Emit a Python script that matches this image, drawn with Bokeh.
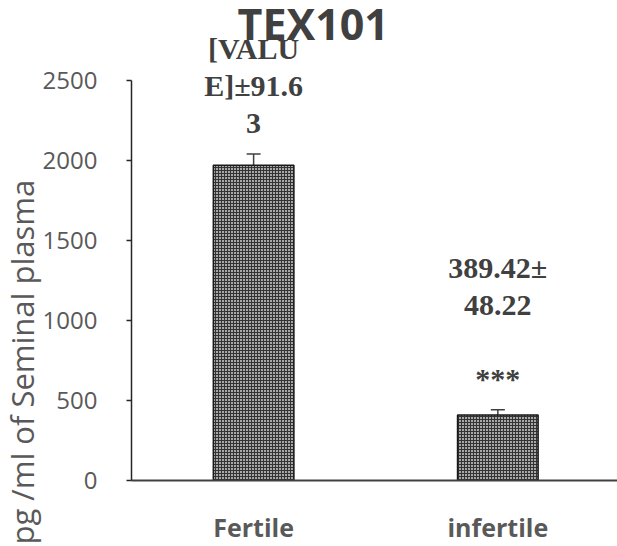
import math
from bokeh.plotting import figure
from bokeh.models import (ColumnDataSource, Range1d, FixedTicker, Whisker, TeeHead, Label, Title)
from bokeh.core.properties import value
from bokeh.embed import file_html
from bokeh.resources import INLINE

# ---- data ----
categories = ["Fertile", "infertile"]
means = [1970, 410]
errors = [70, 32]
value_labels = ["[VALU\nE]\u00b191.6\n3", "389.42\u00b1\n48.22"]
significance = ["", "***"]
y_ticks = [0, 500, 1000, 1500, 2000, 2500]
title_text = "TEX101"
y_label_text = "pg /ml of Seminal plasma"

xs = [i + 0.5 for i in range(len(categories))]
full_labels = [lab + ("\n\n" + s if s else "") for lab, s in zip(value_labels, significance)]
src = ColumnDataSource(dict(
    x=xs, top=means,
    upper=[m + e for m, e in zip(means, errors)],
    lower=[m - e for m, e in zip(means, errors)],
    lab=full_labels,
))

p = figure(width=617, height=546, output_backend="svg", toolbar_location=None,
           x_range=Range1d(0.0, 1.99), y_range=Range1d(0, 3000),
           min_border_left=131, min_border_right=0, min_border_top=0,
           min_border_bottom=66)
p.outline_line_color = None
p.xgrid.visible = False
p.ygrid.visible = False
p.background_fill_color = "white"

p.vbar(x="x", top="top", width=0.33, bottom=0, source=src,
       fill_color="#a8a8a8", line_color="#1a1a1a", line_width=1.5,
       hatch_pattern="+", hatch_color="#333333", hatch_scale=3, hatch_weight=1)

wh = Whisker(base="x", upper="upper", lower="lower", source=src,
             line_color="#404040", line_width=1.5,
             upper_head=TeeHead(size=14, line_color="#404040", line_width=1.5),
             lower_head=TeeHead(size=14, line_color="#404040", line_width=1.5))
p.add_layout(wh)

# value labels (with significance marks) above error bars
p.text(x="x", y="upper", text="lab", source=src, y_offset=-15,
       text_font=value("Liberation Serif"), text_font_style="bold",
       text_font_size="30px", text_color="#404040", text_align="center",
       text_baseline="bottom", text_line_height=1.12)

# axes
ya = p.yaxis[0]
ya.ticker = FixedTicker(ticks=y_ticks)
ya.bounds = (y_ticks[0], y_ticks[-1])
ya.axis_line_color = "#262626"
ya.axis_line_width = 1.5
ya.major_tick_line_color = "#262626"
ya.major_tick_line_width = 1.5
ya.major_tick_out = 5
ya.major_tick_in = 0
ya.minor_tick_line_color = None
ya.major_label_standoff = 29
ya.major_label_text_font = "Open Sans"
ya.major_label_text_font_size = "24px"
ya.major_label_text_color = "#595959"

xa = p.xaxis[0]
xa.ticker = FixedTicker(ticks=xs)
xa.major_label_overrides = {x: c for x, c in zip(xs, categories)}
xa.axis_line_color = "#404040"
xa.axis_line_width = 2
xa.major_tick_line_color = None
xa.minor_tick_line_color = None
xa.major_tick_out = 0
xa.major_tick_in = 0
xa.major_label_standoff = 29
xa.major_label_text_font = "Open Sans"
xa.major_label_text_font_style = "bold"
xa.major_label_text_font_size = "25px"
xa.major_label_text_color = "#595959"

# title inside the top of the frame
p.add_layout(Label(x=0.744, y=2858, text=title_text, text_font="Open Sans",
                   text_font_style="bold", text_font_size="43px",
                   text_color="#404040", text_align="center",
                   text_baseline="alphabetic"))

# vertical axis label as a left-side title
p.add_layout(Title(text=y_label_text, align="left", offset=-64, standoff=-6,
                   text_font="Open Sans", text_font_size="31px",
                   text_font_style="normal", text_color="#595959"), "left")

open("out.html", "w").write(file_html(p, INLINE))
